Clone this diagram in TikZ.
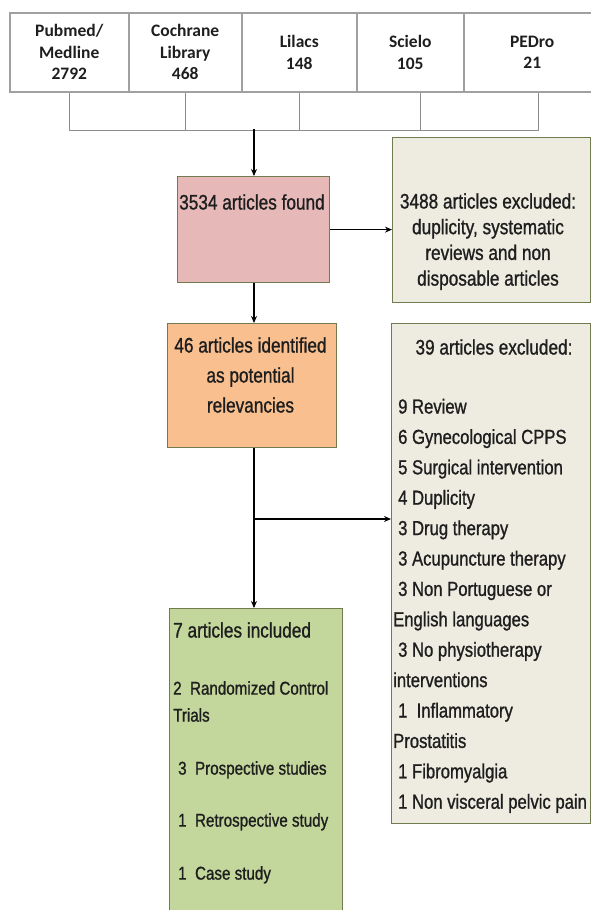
\documentclass[tikz,border=0pt]{standalone}
\usepackage{fontspec}
\setmainfont{Liberation Sans}
\newfontfamily\narrow[FakeStretch=0.82,FakeBold=1]{Liberation Sans}
\newfontfamily\calib{Carlito}
\usetikzlibrary{arrows.meta}
\definecolor{dbline}{RGB}{160,160,160}
\definecolor{brline}{RGB}{140,140,140}
\definecolor{boxline}{RGB}{112,124,80}
\definecolor{foundfill}{RGB}{230,185,184}
\definecolor{relfill}{RGB}{249,191,143}
\definecolor{inclfill}{RGB}{195,214,155}
\definecolor{exclfill}{RGB}{238,236,225}
\definecolor{txtcol}{RGB}{30,30,30}
\begin{document}
\begin{tikzpicture}[x=1pt,y=-1pt,
    db/.style={draw=dbline,line width=1.5pt,minimum height=79pt,anchor=north west,
      align=center,inner sep=0pt,text=txtcol,font=\calib\bfseries\fontsize{17.5}{21.5}\selectfont},
    stage/.style={draw=boxline,line width=1.2pt,anchor=north west,inner sep=0pt},
    txt/.style={inner sep=0pt,text=txtcol,font=\narrow\fontsize{21}{26}\selectfont},
    item/.style={txt,font=\narrow\fontsize{18.5}{22}\selectfont},
    bracket/.style={draw=brline,line width=1.2pt},
    arr/.style={line width=1.5pt,-{Stealth[length=7pt,width=6pt]}}]
  \clip (0,0) rectangle (591,910);
  \node[db,minimum width=119pt] (pubmed) at (9,12) {Pubmed/\\Medline\\2792};
  \node[db,minimum width=113pt] (cochrane) at (128,12) {Cochrane\\Library\hspace*{23pt}\\468};
  \node[db,minimum width=115pt] (lilacs) at (241,12) {Lilacs\\148};
  \node[db,minimum width=107pt] (scielo) at (356,12) {Scielo\\105};
  \node[db,minimum width=137pt] (pedro) at (463,12) {PEDro\\21};
  \draw[bracket] (pubmed.south) -- ++(0,38) -| ([xshift=6.5pt]pedro.south);
  \foreach \n in {cochrane,lilacs}
    \draw[bracket] (\n.south) -- ++(0,38);
  \draw[bracket] ([xshift=10.5pt]scielo.south) -- ++(0,38);
  \coordinate (join) at (254,129);
  \node[stage,fill=foundfill,minimum width=152pt,minimum height=106pt] (found) at (177,176) {};
  \node[stage,fill=exclfill,minimum width=198pt,minimum height=165pt] (dupl) at (392,137) {};
  \node[stage,fill=relfill,minimum width=169pt,minimum height=124pt] (rel) at (167,323) {};
  \node[stage,fill=exclfill,minimum width=199pt,minimum height=500pt] (excl) at (391,323) {};
  \node[stage,fill=inclfill,minimum width=173pt,minimum height=320pt] (incl) at (169,608) {};
  \node[txt,anchor=base] (foundt) at (252,209.5) {3534 articles found};
  \foreach \t [count=\i from 0] in {3488 articles excluded:,{duplicity, systematic},reviews and non,disposable articles}
    \node[txt,anchor=base] (duplt\i) at (488,208.5+25.7*\i) {\t};
  \foreach \t [count=\i from 0] in {46 articles identified,as potential,relevancies}
    \node[txt,anchor=base] (relt\i) at (250.5,352.5+30*\i) {\t};
  \node[txt,anchor=base] (exclt) at (494,354.5) {39 articles excluded:};
  \foreach \t [count=\i from 0] in {9 Review,6 Gynecological CPPS,5 Surgical intervention,4 Duplicity,
      3 Drug therapy,3 Acupuncture therapy,3 Non Portuguese or,\hspace*{-5pt}English languages,
      3 No physiotherapy,\hspace*{-5pt}interventions,1~ Inflammatory,\hspace*{-5pt}Prostatitis,
      1 Fibromyalgia,1 Non visceral pelvic pain}
    \node[txt,anchor=base west,font=\narrow\fontsize{20.3}{26}\selectfont] (excl\i) at (398,413.5+30.4*\i) {\t};
  \node[txt,anchor=base west] (inclt) at (173,637.5) {7 articles included};
  \node[item,anchor=base west] (incl1) at (173,694.6) {2~ Randomized Control};
  \node[item,anchor=base west] (incl2) at (173,721.6) {Trials};
  \node[item,anchor=base west] (incl3) at (178,774.6) {3~ Prospective studies};
  \node[item,anchor=base west] (incl4) at (178,826.6) {1~ Retrospective study};
  \node[item,anchor=base west] (incl5) at (178,879.6) {1~ Case study};
  \coordinate (split) at (254,519);
  \draw[arr] (join) -- (join |- found.north);
  \draw[arr] (found.east) -- (found.east -| dupl.west);
  \draw[arr] (found.south -| join) -- (rel.north -| join);
  \draw[arr] (rel.south -| join) -- (incl.north -| join);
  \draw[arr] (split) -- (split -| excl.west);
\end{tikzpicture}
\end{document}
